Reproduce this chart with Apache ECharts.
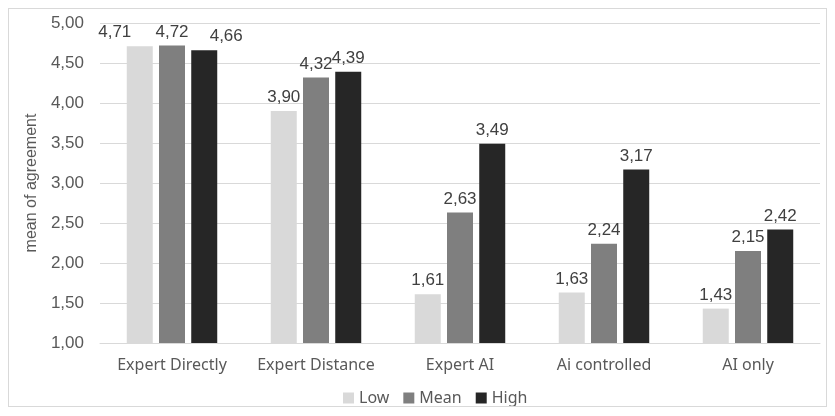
<!DOCTYPE html>
<html><head><meta charset="utf-8">
<script src="https://cdn.jsdelivr.net/npm/echarts@6/dist/echarts.min.js"></script>
<style>html,body{margin:0;padding:0;background:#fff}#c{width:835px;height:416px}
#frame{position:absolute;left:8px;top:8px;width:819px;height:399px;border:1px solid #d9d9d9;box-sizing:border-box;pointer-events:none}</style>
</head><body><div id="c"></div><div id="frame"></div>
<script>
const categories = ['Expert Directly','Expert Distance','Expert AI','Ai controlled','AI only'];
const low  = [4.71, 3.90, 1.61, 1.63, 1.43];
const mean = [4.72, 4.32, 2.63, 2.24, 2.15];
const high = [4.66, 4.39, 3.49, 3.17, 2.42];
const seriesNames = ['Low','Mean','High'];
const colors = ['#d9d9d9','#7f7f7f','#262626'];
const fmt = v => v.toFixed(2).replace('.', ',');
const font = 'Noto Sans';
const numFont = 'Liberation Sans';
// horizontal label nudges (as in the reference, to avoid overlapping labels in the first group)
const labelNudge = [[-25,0,0,0,0],[0,0,0,0,0],[22,0,0,0,0]];
const chart = echarts.init(document.getElementById('c'));
const mk = (name, data, i) => ({
  name, type:'bar', barWidth: 26, barGap: '24%',
  data: data.map((v,j)=> labelNudge[i][j] ? {value:v, label:{offset:[labelNudge[i][j],0]}} : v),
  itemStyle:{color:colors[i]},
  label:{show:true, position:'top', distance:5, formatter:p=>fmt(p.value), color:'#404040', fontSize:17, fontFamily:numFont}
});
chart.setOption({
  animation:false,
  textStyle:{fontFamily:font},
  grid:{left:100, right:15, top:23, bottom:73},
  legend:{bottom:5, left:338, itemWidth:11, itemHeight:11, itemGap:14, icon:'rect',
    textStyle:{color:'#595959', fontSize:16, fontFamily:font}, data:seriesNames},
  xAxis:{type:'category', data:categories,
    axisLine:{lineStyle:{color:'#d9d9d9'}}, axisTick:{show:false},
    axisLabel:{color:'#595959', fontSize:16, margin:14, fontFamily:font, interval:0}},
  yAxis:{type:'value', min:1, max:5, interval:0.5,
    name:'mean of agreement', nameLocation:'middle', nameGap:60, nameRotate:90,
    nameTextStyle:{color:'#595959', fontSize:16, fontFamily:numFont},
    axisLabel:{color:'#595959', fontSize:17, formatter:v=>fmt(v), margin:16, fontFamily:numFont},
    splitLine:{lineStyle:{color:'#d9d9d9'}}},
  series:[mk('Low',low,0), mk('Mean',mean,1), mk('High',high,2)]
});
</script></body></html>
